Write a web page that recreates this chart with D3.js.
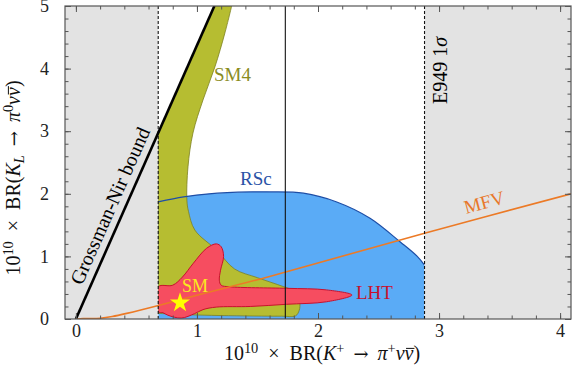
<!DOCTYPE html>
<html>
<head>
<meta charset="utf-8">
<script src="https://cdn.jsdelivr.net/npm/d3@7"></script>
<style>
  body { margin: 0; background: #fff; }
  text { font-family: "Liberation Serif", "DejaVu Serif", serif; }
</style>
</head>
<body>
<div id="chart"></div>
<script>
// values
const xTickLabels = [0, 1, 2, 3, 4];
const yTickLabels = [0, 1, 2, 3, 4, 5];

// E949 measurement: central value and 1 sigma band
const e949Low = 0.68, e949Central = 1.73, e949High = 2.88;

// Grossman-Nir bound end points
const gnBound = [[0, 0], [1.144, 5]];

// MFV curve
const mfvCurve = [[0, 0], [0.06, 0.006], [0.13, 0.006], [0.2, 0.012], [0.3, 0.04],
  [0.42, 0.09], [0.69, 0.22], [1.0, 0.38], [1.6, 0.68], [2.88, 1.37], [4.09, 2.0]];

// SM4 region: straight corner along the dashed line and the GN bound, then the curved edge
const sm4Corner = [[0.68, 0.09], [0.68, 2.97], [1.144, 5.0]];
const sm4Edge = [[1.287, 5.0], [1.231, 4.57], [1.149, 4.03], [1.05, 3.5], [0.967, 2.97],
  [0.926, 2.43], [0.917, 1.9], [0.93, 1.72], [0.983, 1.42], [1.163, 1.1], [1.31, 0.8],
  [1.5, 0.66], [1.71, 0.52], [1.8, 0.45], [1.835, 0.37], [1.85, 0.26], [1.845, 0.14],
  [1.815, 0.05], [1.7, 0.045], [1.2, 0.055], [0.9, 0.07], [0.68, 0.09]];

// RSc upper boundary
const rscArc = [[0.68, 1.87], [0.89, 1.95], [1.1, 2.0], [1.44, 2.03], [1.6, 2.03],
  [1.88, 2.01], [2.155, 1.87], [2.43, 1.61], [2.68, 1.23], [2.82, 1.0], [2.88, 0.86]];

// LHT region outline
const lhtRegion = [[0.68, 0.515], [0.8, 0.54], [0.88, 0.67], [0.97, 0.89], [1.08, 1.13],
  [1.16, 1.2], [1.2, 1.155], [1.22, 1.0], [1.195, 0.78], [1.185, 0.62], [1.2, 0.54],
  [1.27, 0.515], [1.74, 0.49], [2.07, 0.465], [2.28, 0.383], [2.07, 0.275], [1.74, 0.235],
  [1.44, 0.2], [1.16, 0.19], [1.05, 0.15], [0.98, 0.085], [0.87, 0.015], [0.76, 0.06],
  [0.72, 0.1], [0.68, 0.117]];

// Standard Model point
const smPoint = [0.86, 0.26];

const width = 573, height = 370;
const margin = { top: 6, right: 2, bottom: 51, left: 65 };

const svg = d3.select("#chart")
  .append("svg")
  .attr("width", width)
  .attr("height", height);

const x = d3.scaleLinear()
  .domain([-0.09, 4.09])
  .range([margin.left, width - margin.right]);

const y = d3.scaleLinear()
  .domain([0, 5])
  .range([height - margin.bottom, margin.top]);

const defs = svg.append("defs");
defs.append("clipPath").attr("id", "plot")
  .append("rect")
  .attr("x", x.range()[0]).attr("y", y.range()[1])
  .attr("width", x.range()[1] - x.range()[0])
  .attr("height", y.range()[0] - y.range()[1]);
defs.append("clipPath").attr("id", "band")
  .append("rect")
  .attr("x", x(e949Low)).attr("y", y.range()[1])
  .attr("width", x(e949High) - x(e949Low))
  .attr("height", y.range()[0] - y.range()[1]);

const plot = svg.append("g").attr("clip-path", "url(#plot)");

// excluded (grey) areas outside the 1 sigma band
plot.append("rect")
  .attr("x", x.range()[0]).attr("y", y(5))
  .attr("width", x(e949Low) - x.range()[0])
  .attr("height", y(0) - y(5))
  .attr("fill", "#e3e3e3");
plot.append("rect")
  .attr("x", x(e949High)).attr("y", y(5))
  .attr("width", x.range()[1] - x(e949High))
  .attr("height", y(0) - y(5))
  .attr("fill", "#e3e3e3");

const regions = plot.append("g").attr("clip-path", "url(#band)");

const smooth = d3.line()
  .x(d => x(d[0])).y(d => y(d[1]))
  .curve(d3.curveCatmullRom.alpha(0.5));
const smoothClosed = d3.line()
  .x(d => x(d[0])).y(d => y(d[1]))
  .curve(d3.curveCatmullRomClosed.alpha(0.5));
const straight = d3.line()
  .x(d => x(d[0])).y(d => y(d[1]));

// RSc fill
regions.append("path")
  .attr("d", smooth(rscArc) + "L" + x(e949High) + "," + y(0) + "L" + x(e949Low) + "," + y(0) + "Z")
  .attr("fill", "#5aabf6");

// SM4
regions.append("path")
  .attr("d", smooth(sm4Edge) + straight(sm4Corner).replace("M", "L") + "Z")
  .attr("fill", "#b6bd31")
  .attr("stroke", "#7d821f")
  .attr("stroke-width", 0.8);

// RSc edge drawn over SM4
regions.append("path")
  .attr("d", smooth(rscArc))
  .attr("fill", "none")
  .attr("stroke", "#1e4ea6")
  .attr("stroke-width", 1.2);

// LHT
regions.append("path")
  .attr("d", smoothClosed(lhtRegion))
  .attr("fill", "#f64d60")
  .attr("stroke", "#c8102e")
  .attr("stroke-width", 1);

// MFV
plot.append("path")
  .attr("d", smooth(mfvCurve))
  .attr("fill", "none")
  .attr("stroke", "#ec7a26")
  .attr("stroke-width", 1.6);

// E949 central value and band edges
plot.append("line")
  .attr("x1", x(e949Central)).attr("x2", x(e949Central))
  .attr("y1", y(0)).attr("y2", y(5))
  .attr("stroke", "#111").attr("stroke-width", 1.1);
[e949Low, e949High].forEach(v => {
  plot.append("line")
    .attr("x1", x(v)).attr("x2", x(v))
    .attr("y1", y(0)).attr("y2", y(5))
    .attr("stroke", "#111").attr("stroke-width", 1.1)
    .attr("stroke-dasharray", "3,2");
});

// Grossman-Nir bound
plot.append("line")
  .attr("x1", x(gnBound[0][0])).attr("y1", y(gnBound[0][1]))
  .attr("x2", x(gnBound[1][0])).attr("y2", y(gnBound[1][1]))
  .attr("stroke", "#000").attr("stroke-width", 2.6);

// SM point
svg.append("path")
  .attr("d", d3.symbol(d3.symbolStar).size(125)())
  .attr("transform", "translate(" + x(smPoint[0]) + "," + y(smPoint[1]) + ")")
  .attr("fill", "#ffff00");

// labels in the plot
const fs = 19;
svg.append("text").attr("x", 182).attr("y", 292)
  .attr("font-size", 18).attr("fill", "#f9ea1e").text("SM");
svg.append("text").attr("x", 214).attr("y", 81)
  .attr("font-size", fs).attr("fill", "#8a8c1e").text("SM4");
svg.append("text").attr("x", 240).attr("y", 185)
  .attr("font-size", fs).attr("fill", "#2a52a6").text("RSc");
svg.append("text").attr("x", 356).attr("y", 299)
  .attr("font-size", fs).attr("fill", "#c8102e").text("LHT");

const mfvAngle = Math.atan2(y(mfvCurve[9][1]) - y(mfvCurve[10][1]), x(mfvCurve[10][0]) - x(mfvCurve[9][0])) * 180 / Math.PI;
svg.append("text")
  .attr("transform", "translate(466,214) rotate(" + (-mfvAngle) + ")")
  .attr("font-size", fs).attr("fill", "#e8782a").text("MFV");

const gnAngle = Math.atan2(y(gnBound[0][1]) - y(gnBound[1][1]), x(gnBound[1][0]) - x(gnBound[0][0])) * 180 / Math.PI;
svg.append("text")
  .attr("transform", "translate(82,286) rotate(" + (-gnAngle) + ")")
  .attr("font-size", 20).attr("fill", "#000").text("Grossman-Nir bound");

const e949Label = svg.append("text")
  .attr("transform", "translate(447,104) rotate(-90)")
  .attr("font-size", 20).attr("fill", "#000");
e949Label.append("tspan").text("E949 1");
e949Label.append("tspan").style("font-style", "italic").text("σ");

// frame and ticks (mirrored on all four sides)
const minorX = d3.range(0, 4.01, 0.2);
const minorY = d3.range(0, 5.01, 0.2);

const axes = svg.append("g").attr("class", "axes");

const xb = axes.append("g").attr("transform", "translate(0," + y(0) + ")");
xb.call(d3.axisBottom(x).tickValues(minorX).tickSize(-3.5).tickFormat(""));
xb.append("g").call(d3.axisBottom(x).tickValues(xTickLabels).tickSize(-6).tickPadding(5).tickFormat(d3.format("d")));

const xt = axes.append("g").attr("transform", "translate(0," + y(5) + ")");
xt.call(d3.axisTop(x).tickValues(minorX).tickSize(-3.5).tickFormat(""));
xt.append("g").call(d3.axisTop(x).tickValues(xTickLabels).tickSize(-6).tickFormat(""));

const yl = axes.append("g").attr("transform", "translate(" + x.range()[0] + ",0)");
yl.call(d3.axisLeft(y).tickValues(minorY).tickSize(-3.5).tickFormat(""));
yl.append("g").call(d3.axisLeft(y).tickValues(yTickLabels).tickSize(-6).tickPadding(16).tickFormat(d3.format("d")));

const yr = axes.append("g").attr("transform", "translate(" + x.range()[1] + ",0)");
yr.call(d3.axisRight(y).tickValues(minorY).tickSize(-3.5).tickFormat(""));
yr.append("g").call(d3.axisRight(y).tickValues(yTickLabels).tickSize(-6).tickFormat(""));

axes.selectAll(".domain").remove();
axes.selectAll(".tick line").attr("stroke", "#555");
axes.selectAll(".tick text")
  .attr("font-family", "Liberation Serif, DejaVu Serif, serif")
  .attr("font-size", 18).attr("fill", "#222");

axes.append("rect")
  .attr("x", x.range()[0]).attr("y", y(5))
  .attr("width", x.range()[1] - x.range()[0])
  .attr("height", y(0) - y(5))
  .attr("fill", "none")
  .attr("stroke", "#555").attr("stroke-width", 1.2);

// axis titles with math pieces; the bar over the last nu is drawn as a line
const mathTitle = (transform, parts, size) => {
  const g = svg.append("g").attr("transform", transform);
  const t = g.append("text")
    .attr("text-anchor", "middle")
    .attr("font-size", size).attr("fill", "#111");
  let shift = 0, count = 0, barIndex = -1;
  parts.forEach(p => {
    const s = t.append("tspan").text(p.t);
    let target = 0;
    if (p.sup) target = -0.36 * size;
    if (p.sub) target = 0.22 * size;
    s.attr("dy", target - shift);
    shift = target;
    if (p.sup || p.sub) s.attr("font-size", size * 0.72);
    if (p.i) s.style("font-style", "italic");
    if (p.sym) s.attr("font-family", "DejaVu Serif").attr("font-size", size * 0.9);
    if (p.bar) barIndex = count;
    count += p.t.length;
  });
  if (barIndex >= 0) {
    const r = t.node().getExtentOfChar(barIndex);
    g.append("line")
      .attr("x1", r.x + 1.5).attr("x2", r.x + r.width + 1)
      .attr("y1", -0.58 * size).attr("y2", -0.58 * size)
      .attr("stroke", "#111").attr("stroke-width", 1);
  }
};

const tsize = 20;
mathTitle("translate(322,360)", [
  { t: "10" }, { t: "10", sup: true }, { t: "\u2002×\u2002BR(" }, { t: "K", i: true },
  { t: "+", sup: true }, { t: "\u2002→\u2002", sym: true }, { t: "π", i: true }, { t: "+", sup: true },
  { t: "ν", i: true }, { t: "ν", i: true, bar: true }, { t: ")" }
], tsize);

mathTitle("translate(20,178) rotate(-90)", [
  { t: "10" }, { t: "10", sup: true }, { t: "\u2002×\u2002BR(" }, { t: "K", i: true },
  { t: "L", sub: true, i: true }, { t: "\u2002→\u2002", sym: true }, { t: "π", i: true }, { t: "0", sup: true },
  { t: "ν", i: true }, { t: "ν", i: true, bar: true }, { t: ")" }
], tsize);
</script>
</body>
</html>
